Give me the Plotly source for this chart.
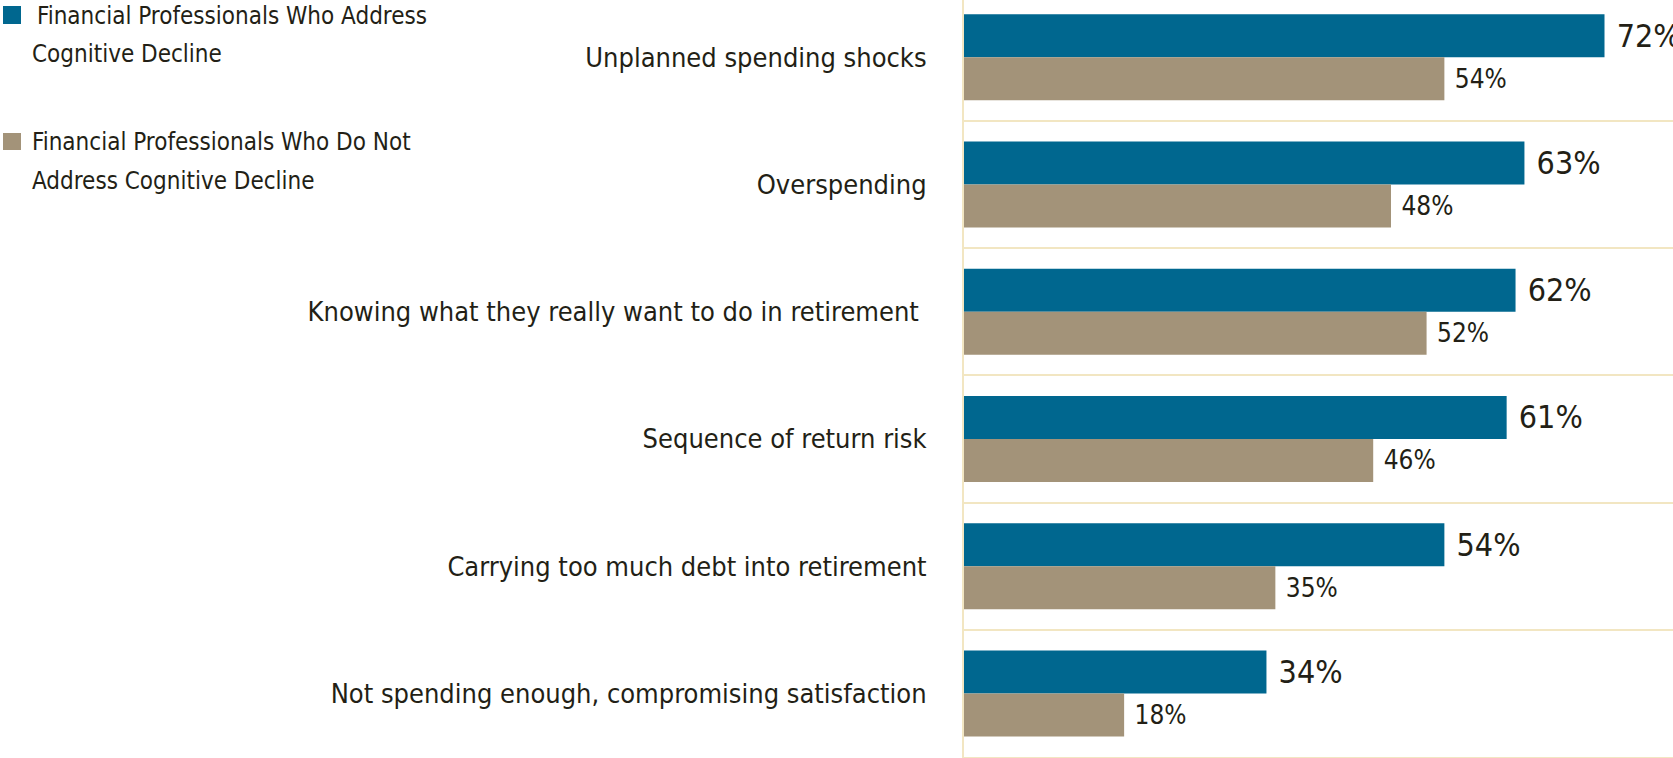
import plotly.graph_objects as go

categories = [
    "Unplanned spending shocks",
    "Overspending",
    "Knowing what they really want to do in retirement ",
    "Sequence of return risk",
    "Carrying too much debt into retirement",
    "Not spending enough, compromising satisfaction",
]
address_vals = [72, 63, 62, 61, 54, 34]
not_address_vals = [54, 48, 52, 46, 35, 18]
series_names = [
    ["Financial Professionals Who Address", "Cognitive Decline"],
    ["Financial Professionals Who Do Not", "Address Cognitive Decline"],
]

BLUE = "#00678f"
BEIGE = "#a39379"
GRID = "#f2e6c2"
TXT = "#231f16"
FONT = "Liberation Sans Narrow, DejaVu Sans Condensed, Roboto Condensed, Arial Narrow, sans-serif"

W, H = 1673, 758
ML, MR, MT, MB = 964, 0, 0, 1
PW, PH = W - ML - MR, H - MT - MB


def px_x(px):
    return (px - ML) / PW


def px_y(py):
    return (H - MB - py) / PH


ypos = list(range(len(categories)))

fig = go.Figure()
fig.add_trace(go.Bar(
    y=ypos, x=address_vals, orientation="h", name=" ".join(series_names[0]),
    marker=dict(color=BLUE, line=dict(width=0)),
    text=[f" {v}%" for v in address_vals], textposition="outside",
    textfont=dict(size=32, color=TXT, family=FONT),
    constraintext="none", cliponaxis=False, hoverinfo="skip",
))
fig.add_trace(go.Bar(
    y=ypos, x=not_address_vals, orientation="h", name=" ".join(series_names[1]),
    marker=dict(color=BEIGE, line=dict(width=0)),
    text=[f" {v}%" for v in not_address_vals], textposition="outside",
    textfont=dict(size=26, color=TXT, family=FONT),
    constraintext="none", cliponaxis=False, hoverinfo="skip",
))

# manual legend (left of the plot area)
legend_items = [
    (BLUE, (3, 21, 6, 24), [(35, 16), (30, 54)]),
    (BEIGE, (3, 21, 133, 150), [(30, 142), (30, 181)]),
]
for (color, (x0, x1, y0, y1), lines), name_lines in zip(legend_items, series_names):
    fig.add_shape(type="rect", xref="paper", yref="paper",
                  x0=px_x(x0), x1=px_x(x1), y0=px_y(y1), y1=px_y(y0),
                  fillcolor=color, line=dict(width=0), layer="above")
    for (lx, ly), txt in zip(lines, name_lines):
        fig.add_annotation(xref="paper", yref="paper", x=px_x(lx), y=px_y(ly),
                           xanchor="left", yanchor="middle", showarrow=False,
                           text=txt, font=dict(size=24, color=TXT, family=FONT))

fig.update_layout(
    width=W, height=H,
    margin=dict(l=ML, r=MR, t=MT, b=MB, pad=0),
    paper_bgcolor="white", plot_bgcolor="white",
    barmode="group", bargap=0.324, bargroupgap=0,
    font=dict(family=FONT, color=TXT),
    showlegend=False,
    xaxis=dict(
        range=[0, 79.7], showgrid=False, zeroline=False,
        showticklabels=False, ticks="",
        showline=True, linecolor=GRID, linewidth=2,
    ),
    yaxis=dict(
        range=[5.5, -0.451], tickmode="array", tickvals=ypos, ticktext=categories,
        tickfont=dict(size=27, color=TXT, family=FONT),
        ticks="outside", ticklen=30, tickcolor="rgba(0,0,0,0)",
        showgrid=False, zeroline=False, automargin=False,
        showline=True, linecolor=GRID, linewidth=2,
        minor=dict(tickmode="array", tickvals=[i + 0.5 for i in ypos],
                   showgrid=True, gridcolor=GRID, gridwidth=2, ticks=""),
    ),
)

fig.write_html(
    "out.html",
    config={"displayModeBar": False},
    post_script="document.body.style.margin='0px';document.body.style.overflow='hidden';",
)
